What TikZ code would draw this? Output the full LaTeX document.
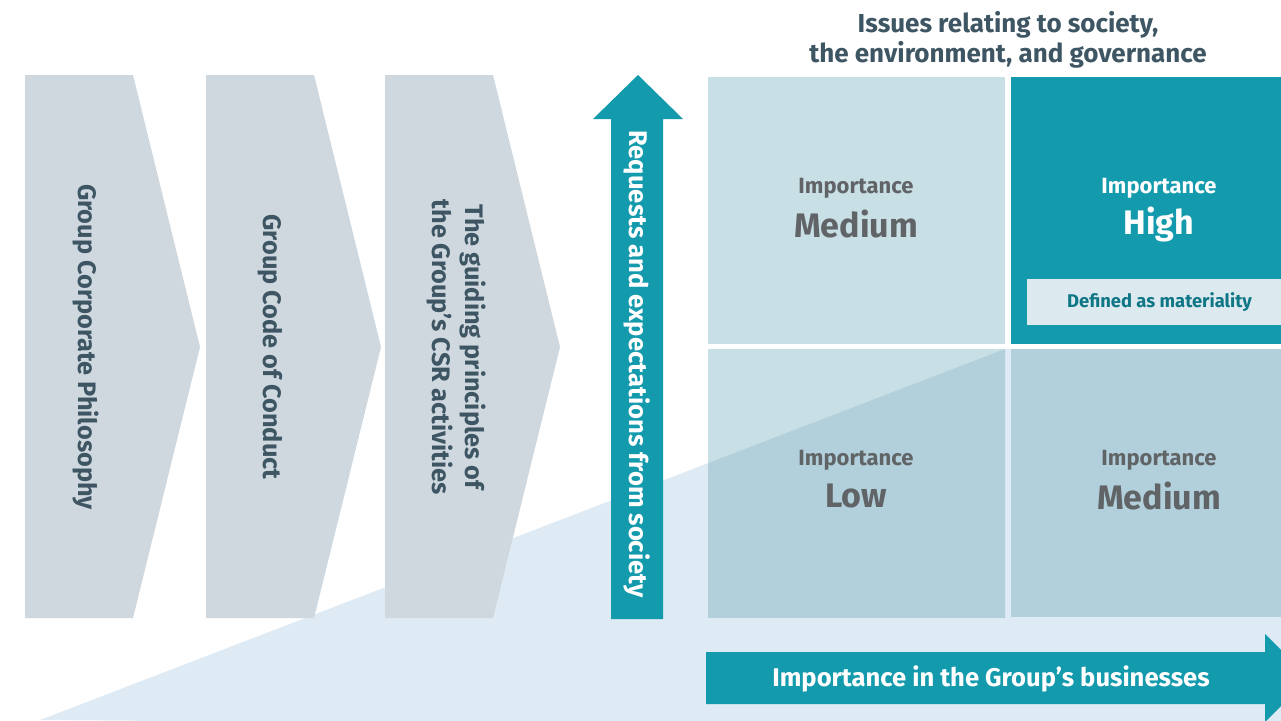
\documentclass[tikz,border=0pt]{standalone}
\usepackage{fontspec}
\setmainfont{Fira Sans}
\usetikzlibrary{positioning}
\definecolor{Chev}{HTML}{CFD8DF}
\definecolor{Slate}{HTML}{3E5663}
\definecolor{Teal}{HTML}{139AAD}
\definecolor{LightQ}{HTML}{C8DFE6}
\definecolor{DarkQ}{HTML}{B1D0DC}
\definecolor{Band}{HTML}{DFEBF4}
\definecolor{MatFill}{HTML}{DCEAF0}
\definecolor{MatText}{HTML}{0F7686}
\definecolor{QText}{HTML}{616466}

\begin{document}
\begin{tikzpicture}[
  x=1pt, y=-1pt,
  chevtext/.style={
    text=Slate,
    font=\bfseries\fontsize{25.3}{33}\selectfont,
    rotate=-90,
    align=center
  },
  arrowtext/.style={
    text=white,
    font=\bfseries\fontsize{25.6}{30}\selectfont
  },
  heading/.style={
    text=Slate,
    font=\bfseries\fontsize{26}{30}\selectfont,
    align=center
  },
  smalllabel/.style={
    font=\bfseries\fontsize{22}{26}\selectfont
  },
  biglabel/.style={
    font=\bfseries\fontsize{34}{40}\selectfont
  },
  matbox/.style={
    fill=MatFill,
    text=MatText,
    font=\bfseries\fontsize{18.4}{22}\selectfont,
    minimum width=265pt,
    minimum height=46pt,
    inner sep=0pt
  }
]

\clip (0,0) rectangle (1281,720);
\fill[white] (0,0) rectangle (1281,720);

% light band behind everything
\fill[Band] (40,720) -- (1005,349) -- (1320,349) -- (1320,730) -- cycle;

% chevrons
\foreach \x in {25,206,385}
  \fill[Chev] (\x,75) -- (\x+108,75) -- (\x+175,347) -- (\x+108,618)
    -- (\x,618) -- cycle;

\node[chevtext] (philosophy) at (86,347) {Group Corporate Philosophy};
\node[chevtext] (conduct) at (270,347) {Group Code of Conduct};
\node[chevtext] (guiding) at (456,347)
  {The guiding principles of\\the Group's CSR activities};

% vertical arrow
\fill[Teal] (611,619) -- (611,119) -- (593,119) -- (638,75) -- (683,119)
  -- (663,119) -- (663,619) -- cycle;
\node[arrowtext, rotate=-90] (requests) at (637,364)
  {Requests and expectations from society};

% matrix
\fill[LightQ] (708,77) rectangle (1005,344);
\fill[Teal] (1011,77) rectangle (1308,344);
\fill[LightQ] (708,349) rectangle (1005,617);
\begin{scope}
  \clip (708,349) rectangle (1005,617);
  \fill[DarkQ] (40,720) -- (1005,349) -- (1005,720) -- cycle;
\end{scope}
\fill[DarkQ] (1011,349) rectangle (1308,617);

\node[heading] (issues) at (1008,40)
  {Issues relating to society,\\the environment, and governance};

\node[smalllabel, text=QText] (tlimp) at (856,188) {Importance};
\node[biglabel, text=QText] (tllvl) at (856,224) {Medium};
\node[smalllabel, text=white] (trimp) at (1159,188) {Importance};
\node[biglabel, text=white] (trlvl) at (1159,224) {High};
\node[smalllabel, text=QText] (blimp) at (856,460) {Importance};
\node[biglabel, text=QText] (bllvl) at (856,496) {Low};
\node[smalllabel, text=QText] (brimp) at (1159,460) {Importance};
\node[biglabel, text=QText] (brlvl) at (1159,496) {Medium};

\node[matbox] (material) at (1159.5,302) {Defined as materiality};

% horizontal arrow
\fill[Teal] (706,652) -- (1265,652) -- (1265,634) -- (1309,678) -- (1265,722)
  -- (1265,704) -- (706,704) -- cycle;
\node[arrowtext] (business) at (991,679)
  {Importance in the Group's businesses};

\end{tikzpicture}
\end{document}
